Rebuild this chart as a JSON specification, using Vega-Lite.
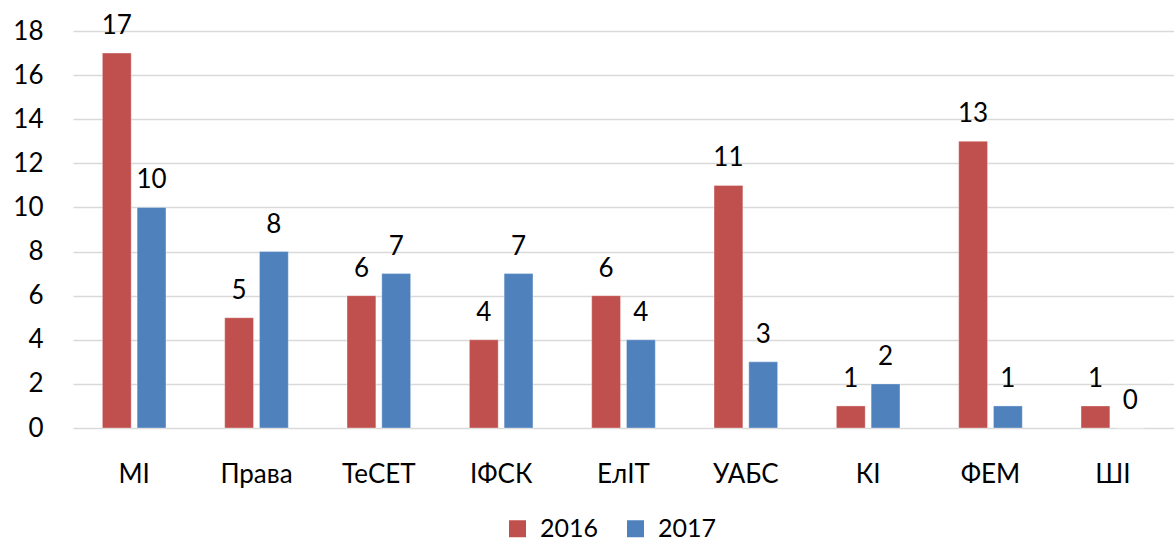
{
  "$schema": "https://vega.github.io/schema/vega-lite/v6.json",
  "autosize": {"type": "none"},
  "padding": {"left": 73, "top": 31, "right": 0, "bottom": 113},
  "width": 1101,
  "height": 397,
  "background": "white",
  "config": {
    "view": {"stroke": null},
    "font": "Lato",
    "axis": {"labelFont": "Lato", "labelColor": "#000000"}
  },
  "data": {
    "values": [
      {"cat": "МІ", "year": "2016", "value": 17},
      {"cat": "МІ", "year": "2017", "value": 10},
      {"cat": "Права", "year": "2016", "value": 5},
      {"cat": "Права", "year": "2017", "value": 8},
      {"cat": "ТеСЕТ", "year": "2016", "value": 6},
      {"cat": "ТеСЕТ", "year": "2017", "value": 7},
      {"cat": "ІФСК", "year": "2016", "value": 4},
      {"cat": "ІФСК", "year": "2017", "value": 7},
      {"cat": "ЕлІТ", "year": "2016", "value": 6},
      {"cat": "ЕлІТ", "year": "2017", "value": 4},
      {"cat": "УАБС", "year": "2016", "value": 11},
      {"cat": "УАБС", "year": "2017", "value": 3},
      {"cat": "КІ", "year": "2016", "value": 1},
      {"cat": "КІ", "year": "2017", "value": 2},
      {"cat": "ФЕМ", "year": "2016", "value": 13},
      {"cat": "ФЕМ", "year": "2017", "value": 1},
      {"cat": "ШІ", "year": "2016", "value": 1},
      {"cat": "ШІ", "year": "2017", "value": 0}
    ]
  },
  "encoding": {
    "x": {
      "field": "cat", "type": "nominal", "sort": null,
      "scale": {"paddingInner": 0.48, "paddingOuter": 0.24},
      "axis": {"title": null, "labelAngle": 0, "labelFontSize": 26, "labelPadding": 33, "ticks": false, "domain": false, "labelBaseline": "top"}
    },
    "xOffset": {"field": "year", "type": "nominal", "scale": {"paddingInner": 0.17}},
    "y": {
      "field": "value", "type": "quantitative",
      "scale": {"domain": [0, 18], "nice": false},
      "axis": {"title": null, "values": [0, 2, 4, 6, 8, 10, 12, 14, 16, 18], "labelFontSize": 26, "labelPadding": 30, "ticks": false, "domain": false, "gridColor": "#D9D9D9", "gridWidth": 1.5}
    }
  },
  "layer": [
    {
      "mark": {"type": "bar", "stroke": "#ffffff", "strokeOpacity": 0.35, "strokeWidth": 1},
      "encoding": {
        "color": {
          "field": "year", "type": "nominal",
          "scale": {"domain": ["2016", "2017"], "range": ["#C0504D", "#4F81BD"]},
          "legend": {
            "title": null, "orient": "none", "direction": "horizontal",
            "legendX": 432, "legendY": 485, "padding": 0,
            "symbolType": "square", "symbolSize": 289, "symbolStrokeWidth": 0,
            "labelFontSize": 25, "labelFont": "Lato", "labelColor": "#000000",
            "labelOffset": 10, "columnPadding": 24
          }
        }
      }
    },
    {
      "mark": {"type": "text", "fontSize": 26, "baseline": "alphabetic", "dy": -19, "color": "#000000"},
      "encoding": {"text": {"field": "value", "type": "quantitative"}}
    }
  ]
}
